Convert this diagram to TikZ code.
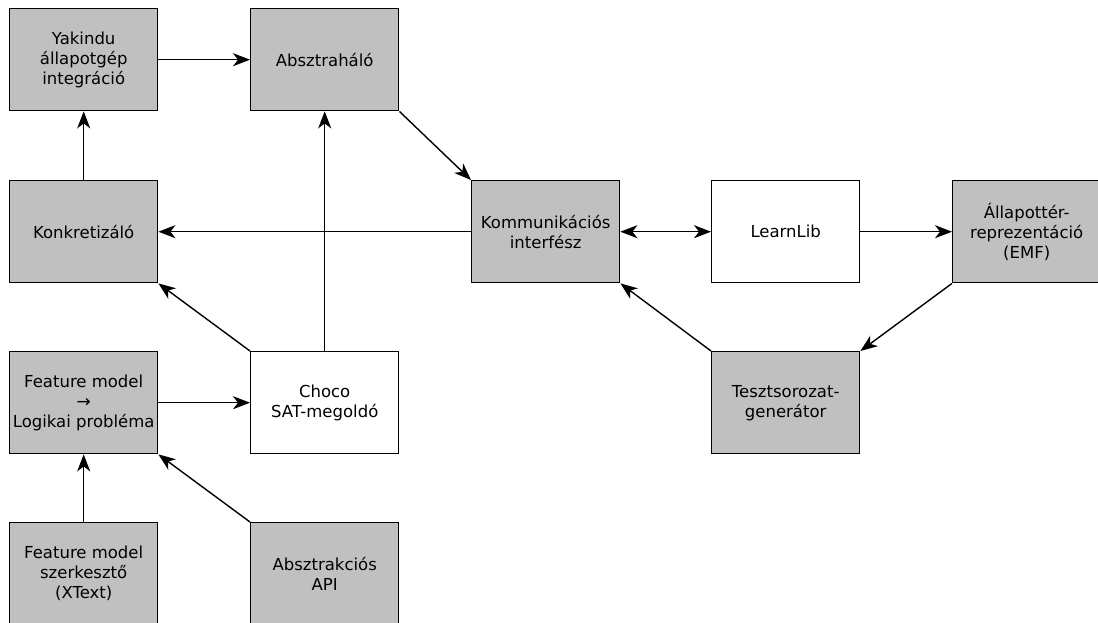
\documentclass[tikz,border=0pt]{standalone}
\usepackage{fontspec}
\setmainfont{DejaVu Sans}
\usetikzlibrary{arrows.meta}
\definecolor{boxgray}{HTML}{C0C0C0}
\tikzset{
  box/.style={draw=black, line width=1.4pt, fill=boxgray, minimum width=148pt, minimum height=102pt,
    anchor=north west, align=center, inner xsep=0pt, inner ysep=2pt, font=\fontsize{16.5}{20}\selectfont},
  wbox/.style={box, fill=white},
  conn/.style={line width=1.4pt, -{Stealth[length=17pt,width=13pt,inset=5pt]}},
  conn2/.style={line width=1.4pt, {Stealth[length=17pt,width=13pt,inset=5pt]}-{Stealth[length=17pt,width=13pt,inset=5pt]}}
}
\begin{document}
\begin{tikzpicture}[x=1pt,y=-1pt]
\useasboundingbox (0,0) rectangle (1098,623);
\clip (0,0) rectangle (1098,623);
\node[box] (yak) at (9,8) {Yakindu\\állapotgép\\integráció};
\node[box] (abs) at (250,8) {Absztraháló};
\node[box] (kon) at (9,180) {Konkretizáló};
\node[box] (kom) at (471,180) {Kommunikációs\\interfész};
\node[wbox] (ll) at (711,180) {LearnLib};
\node[box] (all) at (952,180) {Állapottér-\\reprezentáció\\(EMF)};
\node[box] (fm) at (9,351) {Feature model\\{\fontsize{17}{16}\selectfont →}\\Logikai probléma};
\node[wbox] (cho) at (250,351) {Choco\\SAT-megoldó};
\node[box] (tes) at (711,351) {Tesztsorozat-\\generátor};
\node[box] (szk) at (9,522) {Feature model\\szerkesztő\\(XText)};
\node[box] (api) at (250,522) {Absztrakciós\\API};

\draw[conn] (yak.east) -- (abs.west);
\draw[conn] (kon.north) -- (yak.south);
\draw[conn] (abs.south east) -- (kom.north west);
\draw[conn] (kom.west) -- (kon.east);
\draw[conn2] (kom.east) -- (ll.west);
\draw[conn] (ll.east) -- (all.west);
\draw[conn] (all.south west) -- (tes.north east);
\draw[conn] (tes.north west) -- (kom.south east);
\draw[conn] (cho.north west) -- (kon.south east);
\draw[conn] (cho.north) -- (abs.south);
\draw[conn] (fm.east) -- (cho.west);
\draw[conn] (szk.north) -- (fm.south);
\draw[conn] (api.north west) -- (fm.south east);
\end{tikzpicture}
\end{document}
